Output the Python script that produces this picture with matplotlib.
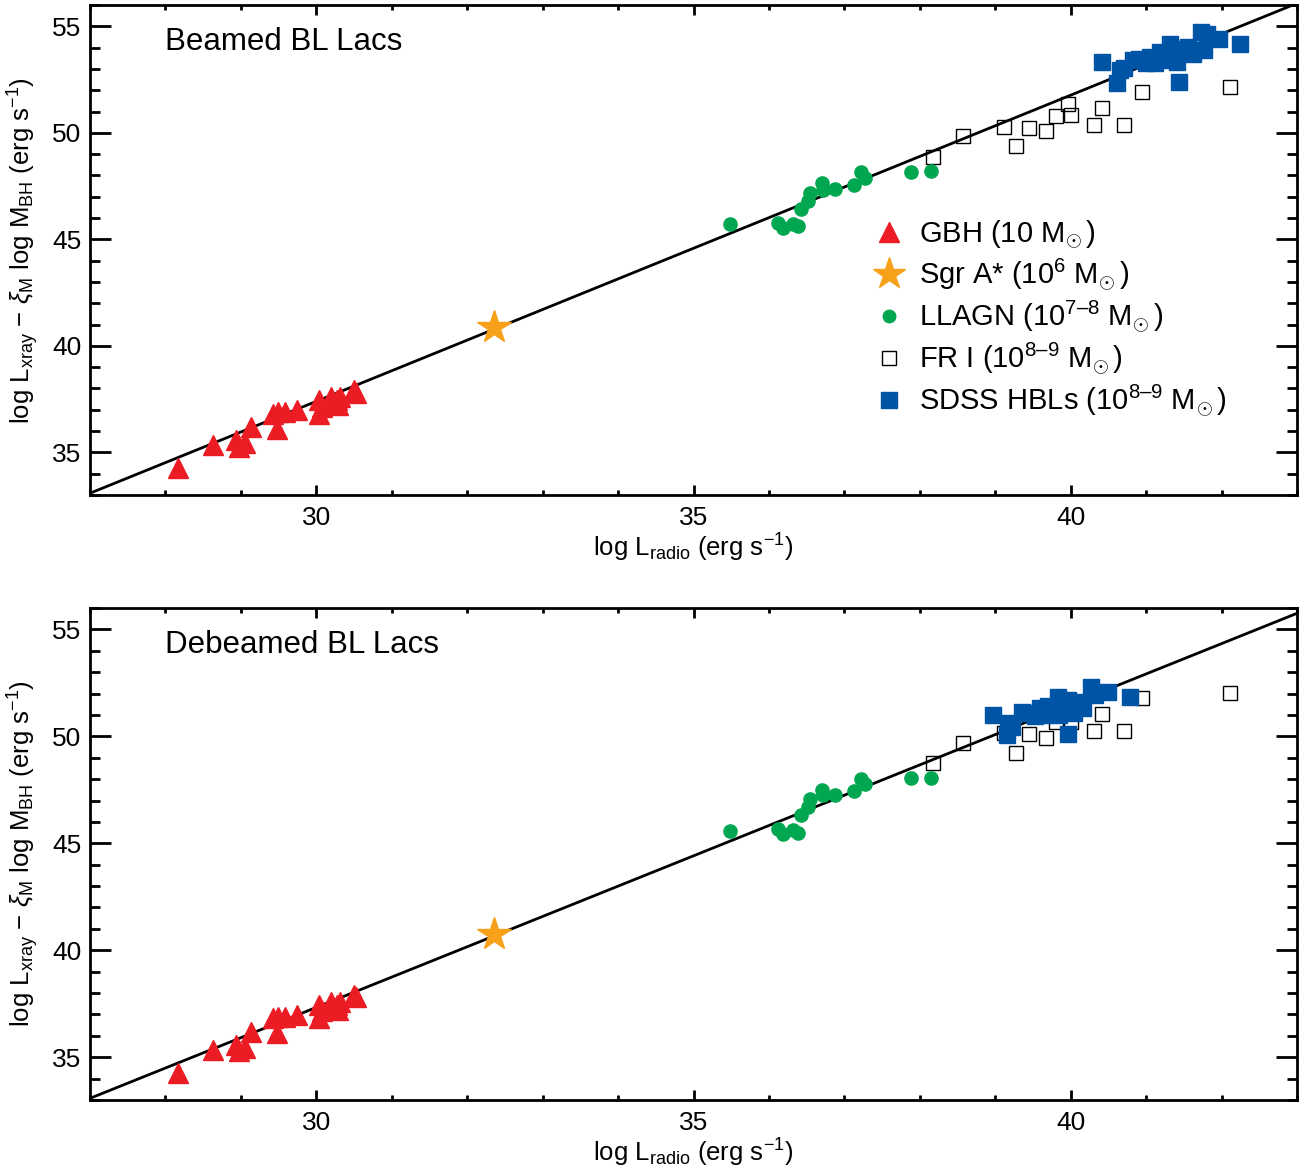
import matplotlib
matplotlib.use('Agg')
import matplotlib.pyplot as plt
from matplotlib.lines import Line2D
from matplotlib.ticker import MultipleLocator

plt.rcParams['font.family'] = ['Liberation Sans', 'DejaVu Sans']
plt.rcParams['mathtext.fontset'] = 'custom'
plt.rcParams['mathtext.rm'] = 'Liberation Sans'
plt.rcParams['mathtext.it'] = 'Liberation Sans:italic'
plt.rcParams['mathtext.sf'] = 'Liberation Sans'

# ---- data (log L_radio, log L_xray - xi_M log M_BH) ----
gbh_x = [28.17, 28.63, 28.93, 28.97, 29.06, 29.14, 29.43, 29.48, 29.49, 29.58,
         29.74, 30.04, 30.04, 30.07, 30.19, 30.27, 30.31, 30.29, 30.50, 30.52]
gbh_y = [34.25, 35.34, 35.58, 35.27, 35.42, 36.20, 36.82, 36.12, 36.90, 36.90,
         36.98, 37.45, 36.82, 37.14, 37.60, 37.45, 37.60, 37.21, 37.91, 37.80]

sgr_x = [32.35]
sgr_y_beamed = [40.89]
sgr_y_debeamed = [40.75]

llagn_x = [35.49, 36.12, 36.19, 36.32, 36.39, 36.43, 36.52, 36.54, 36.70, 36.71,
           36.87, 37.13, 37.22, 37.27, 37.88, 38.15]
llagn_y_beamed = [45.70, 45.78, 45.55, 45.70, 45.62, 46.43, 46.79, 47.18, 47.65, 47.34,
                  47.37, 47.57, 48.14, 47.88, 48.14, 48.19]
llagn_y_debeamed = [45.57, 45.65, 45.42, 45.62, 45.50, 46.32, 46.71, 47.06, 47.49, 47.26,
                    47.26, 47.45, 48.00, 47.76, 48.04, 48.07]

fr1_x = [38.17, 38.57, 39.11, 39.27, 39.45, 39.67, 39.80, 39.96, 40.01, 40.31,
         40.42, 40.70, 40.94, 42.11]
fr1_y_beamed = [48.86, 49.83, 50.28, 49.39, 50.22, 50.09, 50.81, 51.34, 50.84, 50.37,
                51.18, 50.37, 51.92, 52.17]
fr1_y_debeamed = [48.74, 49.67, 50.14, 49.24, 50.09, 49.94, 50.69, 51.20, 50.69, 50.25,
                  51.03, 50.25, 51.78, 52.01]

hbl_x_beamed = [40.42, 40.61, 40.65, 40.70, 40.83, 40.90, 41.05, 41.12, 41.23, 41.32,
                41.34, 41.41, 41.44, 41.47, 41.62, 41.73, 41.76, 41.80, 41.96, 42.25,
                41.00, 41.18, 41.55]
hbl_y_beamed = [53.33, 52.32, 52.94, 53.05, 53.41, 53.49, 53.57, 53.26, 53.57, 54.19,
                53.41, 53.33, 52.40, 53.96, 53.72, 54.73, 53.88, 54.66, 54.42, 54.19,
                53.30, 53.80, 54.05]

hbl_x_debeamed = [38.97, 39.15, 39.17, 39.22, 39.35, 39.43, 39.59, 39.65, 39.74, 39.83,
                  39.85, 39.96, 39.96, 40.09, 40.16, 40.27, 40.32, 40.49, 40.78, 39.52,
                  39.70, 40.05]
hbl_y_debeamed = [51.00, 50.06, 50.61, 50.45, 51.15, 51.07, 51.31, 51.00, 51.23, 51.86,
                  51.00, 50.09, 51.70, 51.62, 51.31, 52.32, 51.93, 52.09, 51.82, 50.95,
                  51.40, 51.10]

# fundamental-plane fit lines: y = slope * x + intercept
fit_beamed = (1.4375, -5.73)
fit_debeamed = (1.417, -5.18)

xlim = (27, 43)
ylim = (33, 56)

RED = '#ec1c24'
ORANGE = '#f7a11a'
GREEN = '#00a650'
BLUE = '#0054a6'

fig = plt.figure(figsize=(13.02, 11.73), dpi=100)
ax1 = fig.add_axes([0.0691, 0.578, 0.9271, 0.4177])
ax2 = fig.add_axes([0.0691, 0.0622, 0.9271, 0.4195])


def draw_panel(ax, sgr_y, llagn_y, fr1_y, hbl_x, hbl_y, fit, title):
    a, b = fit
    ax.plot(xlim, [a * xlim[0] + b, a * xlim[1] + b], color='black', lw=2, zorder=1)
    ax.plot(gbh_x, gbh_y, ls='none', marker='^', ms=14, color=RED, mec=RED, zorder=3)
    ax.plot(sgr_x, sgr_y, ls='none', marker='*', ms=25, color=ORANGE, mec=ORANGE, zorder=3)
    ax.plot(llagn_x, llagn_y, ls='none', marker='o', ms=9.5, color=GREEN, mec=GREEN, zorder=3)
    ax.plot(fr1_x, fr1_y, ls='none', marker='s', ms=9.5, mfc='none', mec='black',
            mew=1.0, zorder=2)
    ax.plot(hbl_x, hbl_y, ls='none', marker='s', ms=11, color=BLUE, mec=BLUE, zorder=4)

    ax.set_xlim(*xlim)
    ax.set_ylim(*ylim)
    ax.xaxis.set_major_locator(MultipleLocator(5))
    ax.xaxis.set_minor_locator(MultipleLocator(1))
    ax.yaxis.set_major_locator(MultipleLocator(5))
    ax.yaxis.set_minor_locator(MultipleLocator(1))
    ax.tick_params(axis='both', which='both', direction='in', top=True, right=True,
                   width=2, labelsize=19)
    ax.tick_params(axis='x', which='major', length=7, pad=8)
    ax.tick_params(axis='x', which='minor', length=3.5)
    ax.tick_params(axis='y', which='major', length=15, pad=6)
    ax.tick_params(axis='y', which='minor', length=7.5)
    for sp in ax.spines.values():
        sp.set_linewidth(2)

    ax.set_xlabel(r'log L$_{\rm radio}$ (erg s$^{\mathrm{−1}}$)', fontsize=18.5, labelpad=1)
    ax.set_ylabel(r'log L$_{\rm xray}$ $-$ $\xi_{\rm M}$ log M$_{\rm BH}$ (erg s$^{\mathrm{−1}}$)',
                  fontsize=18.5, labelpad=8)
    ax.text(0.062, 0.955, title, transform=ax.transAxes, fontsize=22.5, va='top', ha='left')


draw_panel(ax1, sgr_y_beamed, llagn_y_beamed, fr1_y_beamed,
           hbl_x_beamed, hbl_y_beamed, fit_beamed, 'Beamed BL Lacs')
draw_panel(ax2, sgr_y_debeamed, llagn_y_debeamed, fr1_y_debeamed,
           hbl_x_debeamed, hbl_y_debeamed, fit_debeamed, 'Debeamed BL Lacs')

handles = [
    Line2D([], [], ls='none', marker='^', ms=14, color=RED),
    Line2D([], [], ls='none', marker='*', ms=24, color=ORANGE),
    Line2D([], [], ls='none', marker='o', ms=9, color=GREEN),
    Line2D([], [], ls='none', marker='s', ms=10, mfc='none', mec='black', mew=1.0),
    Line2D([], [], ls='none', marker='s', ms=11, color=BLUE),
]
labels = [
    r'GBH (10 M$_{\!\odot}$)',
    r'Sgr A* (10$^{\mathrm{6}}$ M$_{\!\odot}$)',
    'LLAGN (10$^{\\mathrm{7\u20138}}$ M$_{\\!\\odot}$)',
    'FR I (10$^{\\mathrm{8\u20139}}$ M$_{\\!\\odot}$)',
    'SDSS HBLs (10$^{\\mathrm{8\u20139}}$ M$_{\\!\\odot}$)',
]
ax1.legend(handles, labels, loc='upper left', bbox_to_anchor=(0.64, 0.59),
           frameon=False, fontsize=21, handlelength=1.0, handletextpad=0.55,
           labelspacing=0.2, borderaxespad=0)

fig.savefig('out.png', dpi=100)
